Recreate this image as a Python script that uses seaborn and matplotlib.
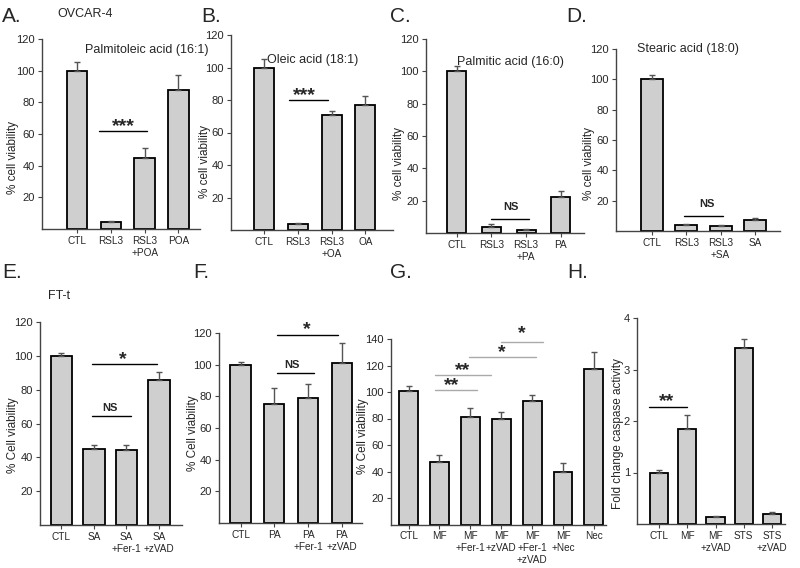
import numpy as np
import pandas as pd
import seaborn as sns
import matplotlib.pyplot as plt

# ---- data ----
a_labels = ['CTL', 'RSL3', 'RSL3\n+POA', 'POA']
a_vals = [100, 4.5, 45, 87.5]
a_errs = [5.5, 0.5, 6, 10]

b_labels = ['CTL', 'RSL3', 'RSL3\n+OA', 'OA']
b_vals = [100, 4, 71, 77]
b_errs = [5.5, 0.5, 2.5, 5.5]

c_labels = ['CTL', 'RSL3', 'RSL3\n+PA', 'PA']
c_vals = [100, 4, 2, 22]
c_errs = [3, 1.5, 0.5, 4]

d_labels = ['CTL', 'RSL3', 'RSL3\n+SA', 'SA']
d_vals = [100, 4, 3.5, 7.5]
d_errs = [3, 0.5, 0.5, 1]

e_labels = ['CTL', 'SA', 'SA\n+Fer-1', 'SA\n+zVAD']
e_vals = [100, 45, 44.5, 86]
e_errs = [1.5, 2.5, 2.5, 4.5]

f_labels = ['CTL', 'PA', 'PA\n+Fer-1', 'PA\n+zVAD']
f_vals = [100, 75, 79, 101]
f_errs = [1.5, 10, 9, 13]

g_labels = ['CTL', 'MF', 'MF\n+Fer-1', 'MF\n+zVAD', 'MF\n+Fer-1\n+zVAD', 'MF\n+Nec', 'Nec']
g_vals = [101, 47, 81, 79.5, 93.5, 39.5, 117]
g_errs = [3.3, 5.5, 7, 5.5, 4, 7, 13]

h_labels = ['CTL', 'MF', 'MF\n+zVAD', 'STS', 'STS\n+zVAD']
h_vals = [1.0, 1.84, 0.135, 3.42, 0.19]
h_errs = [0.05, 0.27, 0.02, 0.17, 0.05]

sns.set_style("white")
plt.rcParams['font.family'] = ['Liberation Sans', 'DejaVu Sans']

W, H = 800, 568
fig = plt.figure(figsize=(8, 5.68), dpi=100)


def draw_panel(labels, vals, errs, box, c0, step, width, ymax, yticks, ylabel, ylab_xy):
    left, right, y0, ytop = box
    ax = fig.add_axes([left / W, 1 - y0 / H, (right - left) / W, (y0 - ytop) / H])
    df = pd.DataFrame({'cond': labels, 'val': vals})
    sns.barplot(data=df, x='cond', y='val', ax=ax, color='#cfcfcf', saturation=1,
                edgecolor='black', linewidth=1.3, width=width, errorbar=None)
    n = len(vals)
    ax.errorbar(np.arange(n), vals, yerr=[np.zeros(n), errs], fmt='none',
                ecolor='#555555', elinewidth=1, capsize=2.5, capthick=1)
    cN = c0 + step * (n - 1)
    ax.set_xlim(-(c0 - left) / step, n - 1 + (right - cN) / step)
    ax.set_ylim(0, ymax)
    ax.set_yticks(yticks)
    ax.set_xlabel('')
    ax.set_ylabel('')
    sns.despine(ax=ax)
    ax.tick_params(axis='both', length=3, width=0.8, color='#444444', pad=2)
    ax.tick_params(axis='x', labelsize=7.2)
    ax.tick_params(axis='y', labelsize=8)
    ax.tick_params(bottom=True, left=True)
    for s in ['left', 'bottom']:
        ax.spines[s].set_color('#444444')
        ax.spines[s].set_linewidth(1)
    fig.text(ylab_xy[0] / W, 1 - ylab_xy[1] / H, ylabel, rotation=90,
             ha='center', va='center', fontsize=8.5)
    return ax


def sig(ax, x1, x2, y, text, tx, ty, color='black', fs=14, weight='bold'):
    ax.plot([x1, x2], [y, y], color=color, lw=1, clip_on=False)
    ax.text(tx, ty, text, ha='center', va='center', fontsize=fs,
            fontweight=weight, clip_on=False)


pct = [20, 40, 60, 80, 100, 120]

ax = draw_panel(a_labels, a_vals, a_errs, (42, 200, 229, 39), 77, 33.8, 0.6, 120, pct,
                '% cell viability', (13, 158))
ax.text(2.07, 113, 'Palmitoleic acid (16:1)', ha='center', va='center', fontsize=9)
sig(ax, 0.65, 2.07, 62, '***', 1.36, 65)

ax = draw_panel(b_labels, b_vals, b_errs, (231, 393, 230, 35), 264, 33.8, 0.59, 120, pct,
                '% cell viability', (205, 162))
ax.text(1.45, 104.5, 'Oleic acid (18:1)', ha='center', va='center', fontsize=9)
sig(ax, 0.75, 1.89, 80, '***', 1.21, 83)

ax = draw_panel(c_labels, c_vals, c_errs, (426, 584, 233, 39), 456.5, 34.8, 0.55, 120, pct,
                '% cell viability', (399, 163))
ax.text(1.54, 106, 'Palmitic acid (16:0)', ha='center', va='center', fontsize=9)
sig(ax, 0.98, 2.08, 8.7, 'NS', 1.56, 16, fs=8)

ax = draw_panel(d_labels, d_vals, d_errs, (616, 780, 231, 49), 652, 34.3, 0.64, 120, pct,
                '% cell viability', (589, 163))
ax.text(1.05, 120, 'Stearic acid (18:0)', ha='center', va='center', fontsize=9)
sig(ax, 0.94, 2.08, 9.7, 'NS', 1.6, 18, fs=8)

ax = draw_panel(e_labels, e_vals, e_errs, (40, 182, 525, 322), 61.5, 32.5, 0.65, 120, pct,
                '% Cell viability', (13, 435))
sig(ax, 0.93, 2.95, 95.3, '*', 1.88, 98)
sig(ax, 0.93, 2.14, 64.7, 'NS', 1.49, 69, fs=8)

ax = draw_panel(f_labels, f_vals, f_errs, (219, 362, 523, 333), 240.5, 33.8, 0.6, 120, pct,
                '% Cell viability', (193, 433))
sig(ax, 1.07, 2.88, 119, '*', 1.96, 122)
sig(ax, 1.07, 2.18, 94.7, 'NS', 1.53, 100, fs=8)

ax = draw_panel(g_labels, g_vals, g_errs, (391, 606, 524.5, 339), 408.5, 30.9, 0.61, 140,
                [20, 40, 60, 80, 100, 120, 140], '% Cell viability', (363, 436))
sig(ax, 0.86, 2.22, 101.8, '**', 1.38, 105, color='#aaaaaa')
sig(ax, 0.86, 2.67, 113, '**', 1.76, 116.5, color='#aaaaaa')
sig(ax, 1.96, 4.13, 126.4, '*', 3.03, 129.5, color='#aaaaaa')
sig(ax, 2.99, 4.35, 137.4, '*', 3.67, 144, color='#aaaaaa')

ax = draw_panel(h_labels, h_vals, h_errs, (637, 785, 524, 318), 659, 28.25, 0.64, 4,
                [1, 2, 3, 4], 'Fold change caspase activity', (618, 434))
sig(ax, -0.35, 0.99, 2.27, '**', 0.27, 2.38)

# panel letters and cell line names
for letter, x, y in [('A.', 2, 16), ('B.', 201, 16), ('C.', 390, 16), ('D.', 566, 16),
                     ('E.', 2, 272), ('F.', 193, 272), ('G.', 390, 272), ('H.', 567, 272)]:
    fig.text(x / W, 1 - y / H, letter, ha='left', va='center', fontsize=15)
fig.text(57 / W, 1 - 14 / H, 'OVCAR-4', ha='left', va='center', fontsize=9)
fig.text(48 / W, 1 - 296 / H, 'FT-t', ha='left', va='center', fontsize=9)

fig.savefig('out.png', dpi=100, facecolor='white')
